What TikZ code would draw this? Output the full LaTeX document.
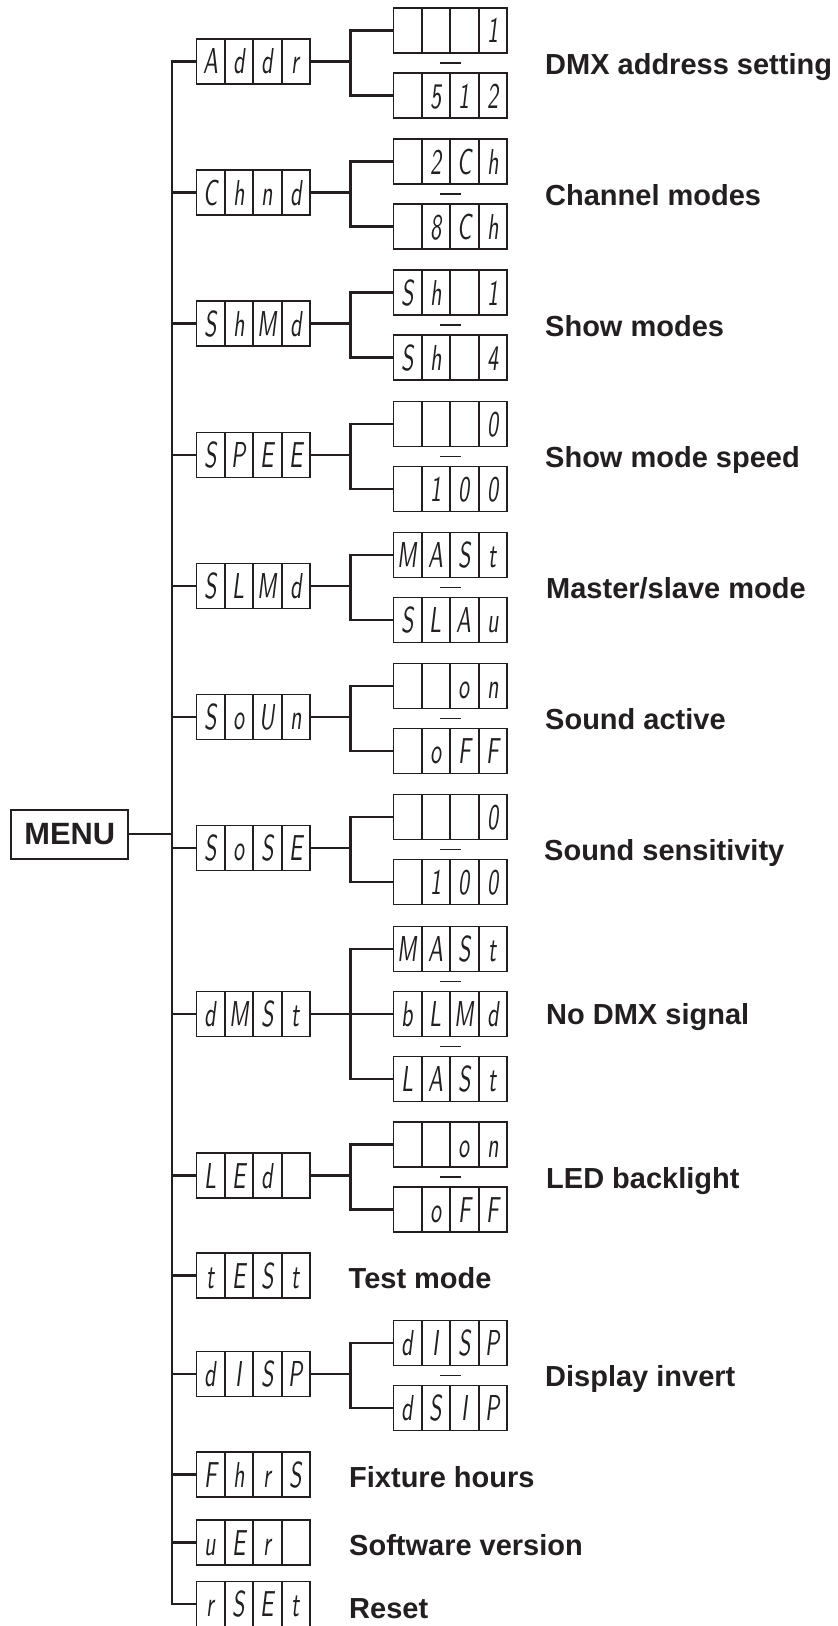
\documentclass[tikz,border=0pt]{standalone}
\usepackage{fontspec}
\setmainfont{Liberation Sans}
\newfontfamily\segfont{lmsans10-regular}[Extension=.otf,FakeStretch=0.62,FakeSlant=0.12]
\usetikzlibrary{calc}
\definecolor{ink}{HTML}{231F20}
\newcommand{\cells}[4]{\makebox[28.4bp]{#1}\makebox[28.4bp]{#2}\makebox[28.4bp]{#3}\makebox[28.4bp]{#4}}
\tikzset{
  disp/.style={draw=ink, line width=1.8bp, anchor=west, minimum width=113.6bp, minimum height=45bp,
    inner sep=0pt, text height=25bp, text depth=0bp, text=ink,
    font=\segfont\fontsize{36bp}{36bp}\selectfont,
    path picture={
      \foreach \i in {1,2,3}{
        \draw[ink, line width=1.8bp]
          ($(path picture bounding box.south west)!\i/4!(path picture bounding box.south east)$) --
          ($(path picture bounding box.north west)!\i/4!(path picture bounding box.north east)$);
      }}},
  lbl/.style={anchor=base west, inner sep=0pt, text=ink, font=\bfseries\fontsize{29bp}{34bp}\selectfont},
  conn/.style={draw=ink, line width=2.2bp},
  sepmark/.style={draw=ink, line width=1.8bp},
  menubox/.style={draw=ink, line width=2bp, minimum width=117bp, minimum height=48.7bp, inner sep=0pt,
    text=ink, font=\bfseries\fontsize{30.8bp}{34bp}\selectfont}
}
\begin{document}
\begin{tikzpicture}[x=1bp,y=-1bp]
\useasboundingbox (0,0) rectangle (837,1626);
\coordinate (trunk) at (172,0);
\coordinate (br) at (350.5,0);

% MENU
\node[menubox] (MENU) at (69.8,834.3) {MENU};

% main items
\node[disp] (Addr) at (195.5,61.5) {\cells{A}{d}{d}{r}};
\node[disp] (Chnd) at (195.5,192.5) {\cells{C}{h}{n}{d}};
\node[disp] (ShMd) at (195.5,323.5) {\cells{S}{h}{M}{d}};
\node[disp] (SPEE) at (195.5,455) {\cells{S}{P}{E}{E}};
\node[disp] (SLMd) at (195.5,586) {\cells{S}{L}{M}{d}};
\node[disp] (SoUn) at (195.5,717) {\cells{S}{o}{U}{n}};
\node[disp] (SoSE) at (195.5,848) {\cells{S}{o}{S}{E}};
\node[disp] (dMSt) at (195.5,1014) {\cells{d}{M}{S}{t}};
\node[disp] (LEd) at (195.5,1175.5) {\cells{L}{E}{d}{}};
\node[disp] (tESt) at (195.5,1275.5) {\cells{t}{E}{S}{t}};
\node[disp] (dISP) at (195.5,1374) {\cells{d}{I}{S}{P}};
\node[disp] (FhrS) at (195.5,1474.5) {\cells{F}{h}{r}{S}};
\node[disp] (uEr) at (195.5,1542.5) {\cells{u}{E}{r}{}};
\node[disp] (rSEt) at (195.5,1604) {\cells{r}{S}{E}{t}};

% sub items
\node[disp] (Addr1) at (392.5,30.5) {\cells{}{}{}{1}};
\node[disp] (Addr2) at (392.5,95.5) {\cells{}{5}{1}{2}};
\node[disp] (Chnd1) at (392.5,161.5) {\cells{}{2}{C}{h}};
\node[disp] (Chnd2) at (392.5,226.5) {\cells{}{8}{C}{h}};
\node[disp] (ShMd1) at (392.5,292.5) {\cells{S}{h}{}{1}};
\node[disp] (ShMd2) at (392.5,357.5) {\cells{S}{h}{}{4}};
\node[disp] (SPEE1) at (392.5,424) {\cells{}{}{}{0}};
\node[disp] (SPEE2) at (392.5,489) {\cells{}{1}{0}{0}};
\node[disp] (SLMd1) at (392.5,555) {\cells{M}{A}{S}{t}};
\node[disp] (SLMd2) at (392.5,620) {\cells{S}{L}{A}{u}};
\node[disp] (SoUn1) at (392.5,686) {\cells{}{}{o}{n}};
\node[disp] (SoUn2) at (392.5,751) {\cells{}{o}{F}{F}};
\node[disp] (SoSE1) at (392.5,817) {\cells{}{}{}{0}};
\node[disp] (SoSE2) at (392.5,882) {\cells{}{1}{0}{0}};
\node[disp] (dMSt1) at (392.5,949) {\cells{M}{A}{S}{t}};
\node[disp] (dMSt2) at (392.5,1014) {\cells{b}{L}{M}{d}};
\node[disp] (dMSt3) at (392.5,1079) {\cells{L}{A}{S}{t}};
\node[disp] (LEd1) at (392.5,1144.5) {\cells{}{}{o}{n}};
\node[disp] (LEd2) at (392.5,1209.5) {\cells{}{o}{F}{F}};
\node[disp] (dISP1) at (392.5,1343) {\cells{d}{I}{S}{P}};
\node[disp] (dISP2) at (392.5,1408) {\cells{d}{S}{I}{P}};

% labels
\node[lbl] (lAddr) at (545,74.3) {DMX address setting};
\node[lbl] (lChnd) at (545,205.3) {Channel modes};
\node[lbl] (lShMd) at (545,336.3) {Show modes};
\node[lbl] (lSPEE) at (545,467) {Show mode speed};
\node[lbl] (lSLMd) at (546,598.8) {Master/slave mode};
\node[lbl] (lSoUn) at (545,729.8) {Sound active};
\node[lbl] (lSoSE) at (544,860.8) {Sound sensitivity};
\node[lbl] (ldMSt) at (546,1024) {No DMX signal};
\node[lbl] (lLEd) at (546,1188.3) {LED backlight};
\node[lbl] (ltESt) at (348.5,1288.3) {Test mode};
\node[lbl] (ldISP) at (545,1386.8) {Display invert};
\node[lbl] (lFhrS) at (349,1487.5) {Fixture hours};
\node[lbl] (luEr) at (349,1555.3) {Software version};
\node[lbl] (lrSEt) at (349,1618) {Reset};

% trunk
\draw[conn] (Addr.west) -- (Addr.west -| trunk) -- (rSEt.west -| trunk) -- (rSEt.west);
\foreach \n in {Chnd,ShMd,SPEE,SLMd,SoUn,SoSE,dMSt,LEd,tESt,dISP,FhrS,uEr}
  \draw[conn] (\n.west -| trunk) -- (\n.west);
\draw[conn] (MENU.east) -- (MENU.east -| trunk);

% two-way branches
\foreach \n in {Addr,Chnd,ShMd,SPEE,SLMd,SoUn,SoSE,LEd,dISP}{
  \draw[conn] (\n.east) -- (\n.east -| br);
  \draw[conn] (\n1.west) -- (\n1.west -| br) -- (\n2.west -| br) -- (\n2.west);
  \coordinate (m\n) at ($(\n1.south)!0.5!(\n2.north)$);
  \draw[sepmark] ([xshift=-10.5bp]m\n) -- ([xshift=10.5bp]m\n);
}
% three-way branch
\draw[conn] (dMSt.east) -- (dMSt2.west);
\draw[conn] (dMSt1.west) -- (dMSt1.west -| br) -- (dMSt3.west -| br) -- (dMSt3.west);
\coordinate (mdA) at ($(dMSt1.south)!0.5!(dMSt2.north)$);
\coordinate (mdB) at ($(dMSt2.south)!0.5!(dMSt3.north)$);
\draw[sepmark] ([xshift=-10.5bp]mdA) -- ([xshift=10.5bp]mdA);
\draw[sepmark] ([xshift=-10.5bp]mdB) -- ([xshift=10.5bp]mdB);
\end{tikzpicture}
\end{document}
